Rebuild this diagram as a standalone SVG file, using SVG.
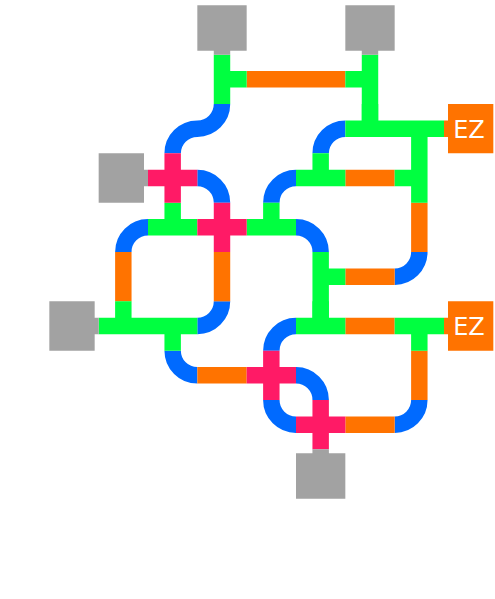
<svg xmlns="http://www.w3.org/2000/svg" width="495" height="599" viewBox="0 0 495 599">
<style>
.t{fill:none;stroke-width:16.44;stroke-linecap:butt;stroke-linejoin:miter}
.g{stroke:#00ff40}.o{stroke:#ff7300}.b{stroke:#006aff}.p{stroke:#ff1a66}
.box{fill:#a2a2a2}.ez{fill:#ff7300}
.lbl{font-family:"DejaVu Sans",sans-serif;font-size:24px;fill:#fff;text-anchor:middle}
</style>
<rect width="495" height="599" fill="#fff"/>
<g id="connectors">
<path class="t b" d="M222 104A24.67 24.67 0 0 1 197.33 128.67A24.67 24.67 0 0 0 172.67 153.33"/>
<path class="t b" d="M345.33 128.67A24.67 24.67 0 0 0 320.67 153.33"/>
<path class="t b" d="M197.33 178A24.67 24.67 0 0 1 222 202.67"/>
<path class="t b" d="M296 178A24.67 24.67 0 0 0 271.33 202.67"/>
<path class="t b" d="M148 227.33A24.67 24.67 0 0 0 123.33 252"/>
<path class="t b" d="M296 227.33A24.67 24.67 0 0 1 320.67 252"/>
<path class="t b" d="M394.67 276.67A24.67 24.67 0 0 0 419.33 252"/>
<path class="t b" d="M197.33 326A24.67 24.67 0 0 0 222 301.33"/>
<path class="t b" d="M296 326A24.67 24.67 0 0 0 271.33 350.67"/>
<path class="t b" d="M172.67 350.67A24.67 24.67 0 0 0 197.33 375.33"/>
<path class="t b" d="M296 375.33A24.67 24.67 0 0 1 320.67 400"/>
<path class="t b" d="M271.33 400A24.67 24.67 0 0 0 296 424.67"/>
<path class="t b" d="M394.67 424.67A24.67 24.67 0 0 0 419.33 400"/>
<path class="t o" d="M246.67 79.33H345.33"/>
<path class="t o" d="M345.33 178H394.67"/>
<path class="t o" d="M419.33 202.67V252"/>
<path class="t o" d="M123.33 252V301.33"/>
<path class="t o" d="M222 252V301.33"/>
<path class="t o" d="M345.33 276.67H394.67"/>
<path class="t o" d="M345.33 326H394.67"/>
<path class="t o" d="M419.33 350.67V400"/>
<path class="t o" d="M197.33 375.33H246.67"/>
<path class="t o" d="M345.33 424.67H394.67"/>
</g>
<g id="junctions">
<path id="j1" class="t g" d="M222 54.67V104M222 79.33H246.67"/>
<path id="j2" class="t g" d="M370 54.67V128.67M345.33 79.33H370"/>
<path id="j3" class="t g" d="M345.33 128.67H444M370 104V128.67"/>
<path id="j4" class="t g" d="M419.33 128.67V202.67M394.67 178H419.33"/>
<path id="j5" class="t g" d="M296 178H345.33M320.67 153.33V178"/>
<path id="j6" class="t g" d="M148 227.33H197.33M172.67 202.67V227.33"/>
<path id="j7" class="t g" d="M246.67 227.33H296M271.33 202.67V227.33"/>
<path id="j8" class="t g" d="M320.67 252V326M320.67 276.67H345.33"/>
<path id="j9" class="t g" d="M98.67 326H197.33M123.33 301.33V326M172.67 326V350.67"/>
<path id="j10" class="t g" d="M296 326H345.33M320.67 301.33V326"/>
<path id="j11" class="t g" d="M394.67 326H444M419.33 326V350.67"/>
</g>
<g id="crossings">
<path id="x1" class="t p" d="M148 178H197.33M172.67 153.33V202.67"/>
<path id="x2" class="t p" d="M197.33 227.33H246.67M222 202.67V252"/>
<path id="x3" class="t p" d="M246.67 375.33H296M271.33 350.67V400"/>
<path id="x4" class="t p" d="M296 424.67H345.33M320.67 400V449.33"/>
</g>
<g id="box-top-left"><path class="box" d="M197.33 5.33H246.67V50.67H230.22V54.67H213.78V50.67H197.33Z"/></g>
<g id="box-top-right"><path class="box" d="M345.33 5.33H394.67V50.67H378.22V54.67H361.78V50.67H345.33Z"/></g>
<g id="box-left-upper"><path class="box" d="M98.67 153.33H144V169.78H148V186.22H144V202.67H98.67Z"/></g>
<g id="box-left-lower"><path class="box" d="M49.33 301.33H94.67V317.78H98.67V334.22H94.67V350.67H49.33Z"/></g>
<g id="box-bottom"><path class="box" d="M296 453.33H312.44V449.33H328.89V453.33H345.33V498.67H296Z"/></g>
<g id="ez-upper"><path class="ez" d="M448 104H493.33V153.33H448V136.89H444V120.44H448Z"/><text class="lbl" x="469" y="138">EZ</text></g>
<g id="ez-lower"><path class="ez" d="M448 301.33H493.33V350.67H448V334.22H444V317.78H448Z"/><text class="lbl" x="469" y="335.3">EZ</text></g>
</svg>
